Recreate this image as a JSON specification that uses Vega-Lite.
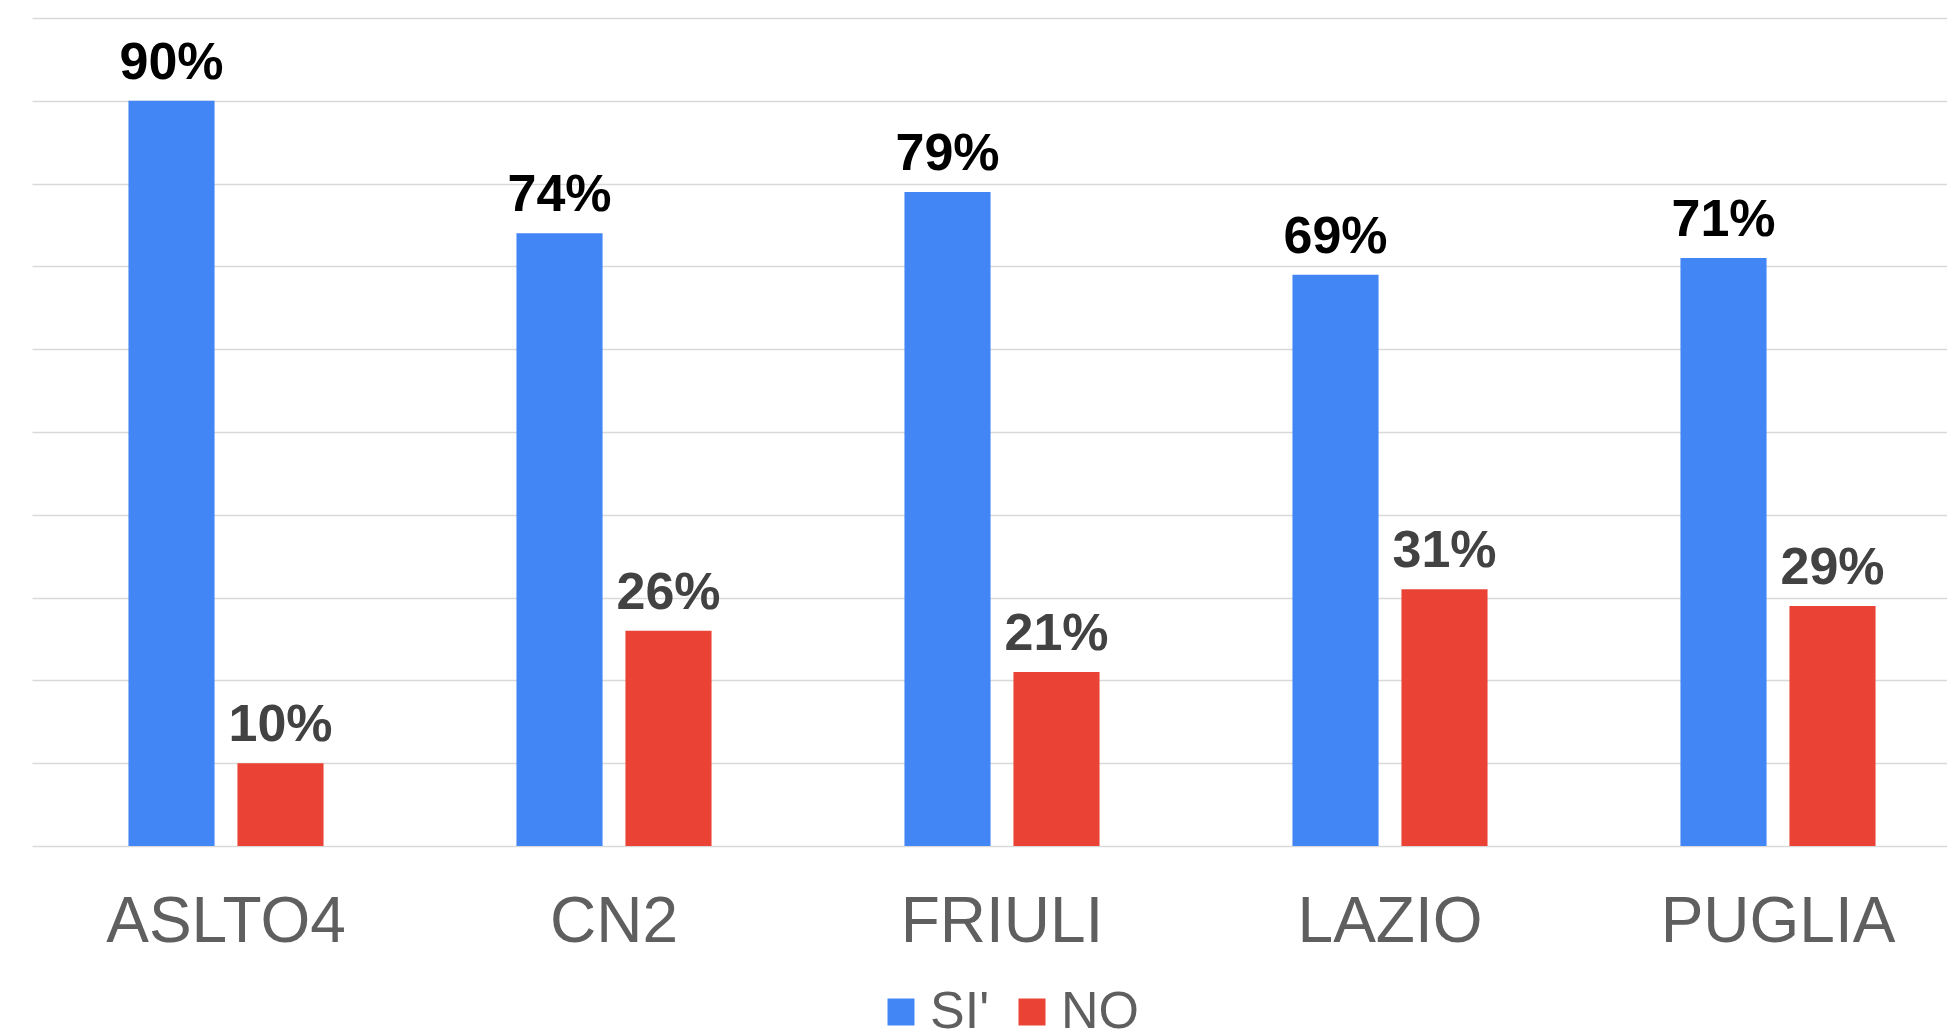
{
  "$schema": "https://vega.github.io/schema/vega-lite/v6.json",
  "width": 1915,
  "height": 828,
  "autosize": {"type": "none"},
  "padding": {"left": 32, "top": 18, "right": 0, "bottom": 186},
  "background": "#ffffff",
  "config": {
    "font": "Liberation Sans",
    "view": {"stroke": null}
  },
  "data": {
    "values": [
      {"regione": "ASLTO4", "risposta": "SI'", "valore": 0.90},
      {"regione": "ASLTO4", "risposta": "NO", "valore": 0.10},
      {"regione": "CN2", "risposta": "SI'", "valore": 0.74},
      {"regione": "CN2", "risposta": "NO", "valore": 0.26},
      {"regione": "FRIULI", "risposta": "SI'", "valore": 0.79},
      {"regione": "FRIULI", "risposta": "NO", "valore": 0.21},
      {"regione": "LAZIO", "risposta": "SI'", "valore": 0.69},
      {"regione": "LAZIO", "risposta": "NO", "valore": 0.31},
      {"regione": "PUGLIA", "risposta": "SI'", "valore": 0.71},
      {"regione": "PUGLIA", "risposta": "NO", "valore": 0.29}
    ]
  },
  "encoding": {
    "x": {
      "field": "regione",
      "type": "nominal",
      "sort": ["ASLTO4", "CN2", "FRIULI", "LAZIO", "PUGLIA"],
      "scale": {"range": [0, 1940], "paddingInner": 0, "paddingOuter": 0},
      "axis": {
        "title": null,
        "labelAngle": 0,
        "labelFontSize": 64,
        "labelColor": "#5f5f5f",
        "labelPadding": 44,
        "labelLimit": 0,
        "domain": false,
        "ticks": false
      }
    },
    "xOffset": {
      "field": "risposta",
      "type": "nominal",
      "sort": ["SI'", "NO"],
      "scale": {"paddingInner": 0.21, "paddingOuter": 0.885}
    },
    "y": {
      "field": "valore",
      "type": "quantitative",
      "scale": {"domain": [0, 1], "nice": false},
      "axis": {
        "title": null,
        "labels": false,
        "ticks": false,
        "domain": false,
        "values": [0, 0.1, 0.2, 0.3, 0.4, 0.5, 0.6, 0.7, 0.8, 0.9, 1.0],
        "gridColor": "#d9d9d9",
        "gridWidth": 1.5
      }
    }
  },
  "layer": [
    {
      "mark": {"type": "bar"},
      "encoding": {
        "color": {
          "field": "risposta",
          "type": "nominal",
          "sort": ["SI'", "NO"],
          "scale": {"domain": ["SI'", "NO"], "range": ["#4285F4", "#EA4335"]},
          "legend": {
            "title": null,
            "orient": "none",
            "direction": "horizontal",
            "legendX": 843,
            "legendY": 968,
            "symbolType": "square",
            "symbolSize": 729,
            "symbolStrokeWidth": 0,
            "labelFontSize": 52,
            "labelColor": "#5f5f5f",
            "labelOffset": 3,
            "columnPadding": 16,
            "labelLimit": 300
          }
        }
      }
    },
    {
      "mark": {"type": "text", "baseline": "alphabetic", "dy": -22, "fontSize": 52, "fontWeight": "bold"},
      "encoding": {
        "text": {"field": "valore", "type": "quantitative", "format": ".0%"},
        "color": {
          "condition": {"test": "datum.risposta === 'NO'", "value": "#424242"},
          "value": "#000000"
        }
      }
    }
  ]
}
